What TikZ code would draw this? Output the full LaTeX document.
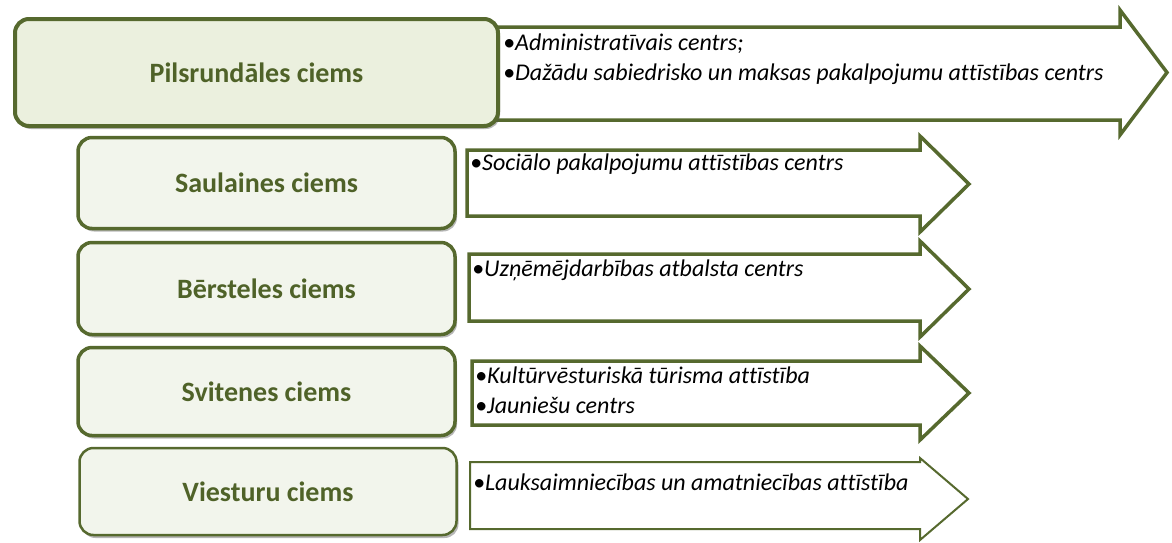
\documentclass[tikz,border=0pt]{standalone}
\usepackage{fontspec}
\setmainfont[Ligatures={NoCommon}]{Carlito}
\usetikzlibrary{shadows}
\definecolor{olivedark}{HTML}{4F6228}
\definecolor{oliveline}{HTML}{56692E}
\definecolor{fillA}{HTML}{EBF0DE}
\definecolor{fillB}{HTML}{F2F5EC}
\newcommand\villagearrow[9]{%
  \draw[arrowshape,#9] (#1,#2) -- (#4,#2) -- (#4,#5) -- (#7,#8) -- (#4,#6) -- (#4,#3) -- (#1,#3) -- cycle;}
\begin{document}
\begin{tikzpicture}[x=1pt,y=-1pt,
  village/.style={draw=oliveline, rounded corners=14pt, line width=3.5pt, inner sep=0pt,
    font=\fontsize{28}{32}\selectfont\bfseries, text=olivedark,
    drop shadow={shadow xshift=2pt, shadow yshift=-3pt, opacity=0.4, fill=black!70}},
  arrowshape/.style={draw=oliveline, line width=3.5pt, fill=white, line join=miter},
  item/.style={anchor=base west, font=\fontsize{24}{30}\selectfont\itshape, inner sep=0pt}]
\useasboundingbox (0,0) rectangle (1172,542);

% arrows (behind boxes)
\villagearrow{495}{27}{120}{1120}{10}{135}{1167}{72.5}{}
\villagearrow{467}{150}{216}{920}{136}{232}{969}{184}{}
\villagearrow{469}{254}{321}{920}{241}{337}{969}{289}{}
\villagearrow{472}{361}{425}{920}{346}{440}{969}{393}{}
\villagearrow{470}{462}{529}{920}{458}{540}{968}{499}{line width=2pt}

% texts in arrows
\node[item] (t1a) at (503,50) {•Administratīvais centrs;};
\node[item] (t1b) at (503,80) {•Dažādu sabiedrisko un maksas pakalpojumu attīstības centrs};
\node[item] (t2) at (470,170) {•Sociālo pakalpojumu attīstības centrs};
\node[item] (t3) at (472,276) {•Uzņēmējdarbības atbalsta centrs};
\node[item] (t4a) at (475,383) {•Kultūrvēsturiskā tūrisma attīstība};
\node[item] (t4b) at (475,413) {•Jauniešu centrs};
\node[item] (t5) at (473,490) {•Lauksaimniecības un amatniecības attīstība};

% village boxes
\node[village, fill=fillA, line width=4pt, minimum width=483pt, minimum height=107pt] (p) at (256.5,72.5) {Pilsrundāles ciems};
\node[village, fill=fillB, minimum width=377pt, minimum height=91pt] (s) at (266.5,183) {Saulaines ciems};
\node[village, fill=fillB, minimum width=377pt, minimum height=92pt] (b) at (266.5,288.5) {Bērsteles ciems};
\node[village, fill=fillB, minimum width=377pt, minimum height=88pt] (sv) at (266.5,391.5) {Svitenes ciems};
\node[village, fill=fillB, line width=2.5pt, minimum width=377pt, minimum height=87pt] (v) at (268,491.5) {Viesturu ciems};
\end{tikzpicture}
\end{document}
